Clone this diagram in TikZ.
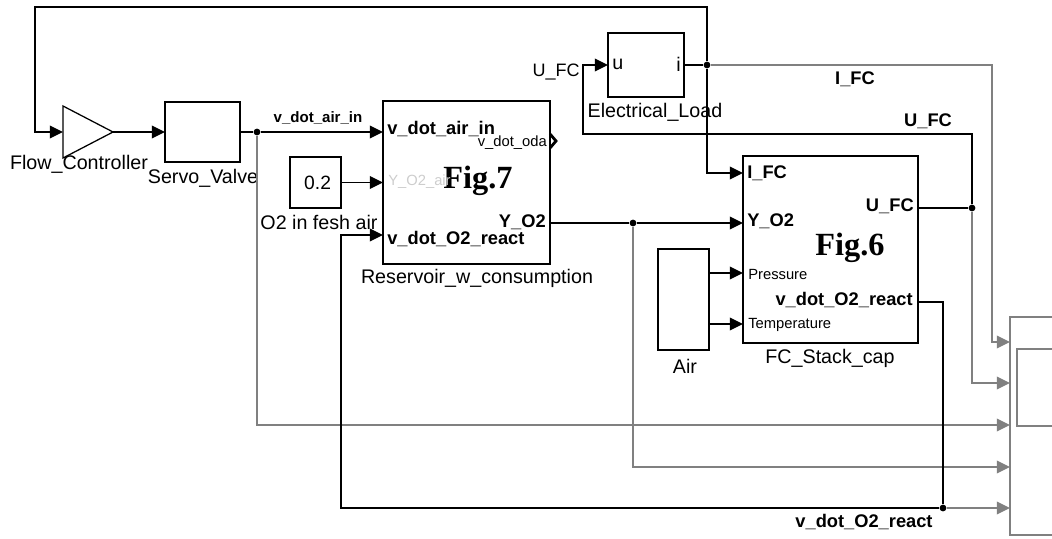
\documentclass[tikz,border=0pt]{standalone}
\usepackage{fontspec}
\setmainfont{Liberation Sans}
\newfontfamily\figfont{Liberation Serif}
\usetikzlibrary{arrows.meta,shapes.geometric}
\definecolor{sgray}{RGB}{128,128,128}
\definecolor{lgray}{RGB}{205,205,205}
\tikzset{
  blk/.style={draw=black,line width=0.9pt,inner sep=0pt,outer sep=0pt},
  gain/.style={blk,shape=isosceles triangle,isosceles triangle stretches,
    minimum width=1.3cm,minimum height=1.25cm,anchor=lower side},
  wire/.style={line width=1pt,black},
  wireg/.style={line width=1pt,sgray},
  sig/.style={wire,-{Triangle[length=3.3mm,width=3.2mm]}},
  sigg/.style={wireg,-{Triangle[length=3.3mm,width=3.2mm]}},
  dot/.style={circle,fill=black,inner sep=0pt,minimum size=0.17cm},
  lbl/.style={inner sep=0pt,font=\fontsize{14}{14}\selectfont},
  portb/.style={inner sep=0pt,font=\fontsize{13}{13}\selectfont\bfseries},
  ports/.style={inner sep=0pt,font=\fontsize{10.5}{11}\selectfont},
  figlbl/.style={inner sep=0pt,font=\fontsize{23}{23}\selectfont\figfont\bfseries}
}
\begin{document}
\begin{tikzpicture}[x=0.025cm,y=-0.025cm]
\useasboundingbox (0,0) rectangle (1052,539);
\clip (0,0) rectangle (1052,539);
% blocks
\node[gain] (flowctl) at (63,132) {};
\node[blk,minimum width=1.875cm,minimum height=1.5cm] (servo) at (202.5,132) {};
\node[blk,minimum width=1.275cm,minimum height=1.275cm,font=\fontsize{13.7}{14}\selectfont] (o2const) at (315.5,182.5) {\hspace{3pt}0.2};
\node[blk,minimum width=4.175cm,minimum height=4.075cm] (resv) at (466.5,182.5) {};
\node[blk,minimum width=1.9cm,minimum height=1.6cm] (eload) at (646,65) {};
\node[blk,minimum width=4.375cm,minimum height=4.675cm] (fcstack) at (830.5,249.5) {};
\node[blk,minimum width=1.275cm,minimum height=2.525cm] (air) at (683.5,299.5) {};
\node[blk,draw=sgray,minimum width=1.5cm,minimum height=5.45cm] (scope) at (1040,426) {};
\draw[line width=0.9pt,sgray] (1017,349) rectangle (1070,426);
% block names
\node[lbl] (lflow) at (79,164) {Flow\_Controller};
\node[lbl] (lservo) at (203,178) {Servo\_Valve};
\node[lbl] (lo2) at (319,222) {O2 in fesh air};
\node[lbl] (lresv) at (477,278) {Reservoir\_w\_consumption};
\node[lbl] (leload) at (655,112) {Electrical\_Load};
\node[lbl] (lfc) at (830,358) {FC\_Stack\_cap};
\node[lbl] (lair) at (685,366) {Air};
\node[figlbl] (fig7) at (478,181) {Fig.7};
\node[figlbl] (fig6) at (850,248) {Fig.6};
% port names
\node[portb,anchor=west] (prv1) at (387,129) {v\_dot\_air\_in};
\node[ports,anchor=west,text=lgray] (prv2) at (388,182) {Y\_O2\_air};
\node[portb,anchor=west] (prv3) at (387,239) {v\_dot\_O2\_react};
\node[ports,anchor=east] (prvoda) at (547,143) {v\_dot\_oda};
\node[portb,anchor=east] (prvy) at (546,222) {Y\_O2};
\node[lbl,anchor=west] (peu) at (612,64) {u};
\node[lbl,anchor=east] (pei) at (681,64) {i};
\node[portb,anchor=west] (pfi) at (747,173) {I\_FC};
\node[portb,anchor=west] (pfy) at (747,221) {Y\_O2};
\node[ports,anchor=west] (pfp) at (748,274) {Pressure};
\node[ports,anchor=west] (pft) at (748,325) {Temperature};
\node[portb,anchor=east] (pfu) at (914,206) {U\_FC};
\node[portb,anchor=east] (pfv) at (913,300) {v\_dot\_O2\_react};
% port points
\coordinate (rin3) at (383,235);
\coordinate (roda) at (550,141);
\coordinate (fin1) at (743,173);
\coordinate (fout2) at (917,302);
\coordinate (sc1) at (1010,342);
\coordinate (sc2) at (1010,383);
\coordinate (sc3) at (1010,425);
\coordinate (sc4) at (1010,467);
\coordinate (sc5) at (1010,508);
% junctions
\node[dot] (j1) at (257,132) {};
\node[dot] (j2) at (707,65) {};
\node[dot] (j3) at (972,208) {};
\node[dot] (j4) at (633,223) {};
\node[dot] (j5) at (943,508) {};
% signals
\draw[line width=2pt] (roda) ++(0,-7) -- ++(6,7) -- ++(-6,7);
\draw[sig] (flowctl.apex) -- (servo.west);
\draw[wire] (servo.east) -- (j1);
\draw[sig] (j1) -- (j1 -| resv.west);
\draw[sig] (o2const.east) -- (o2const.east -| resv.west);
\draw[wire] (resv.east |- j4) -- (j4);
\draw[sig] (j4) -- (j4 -| fcstack.west);
\draw[wire] (eload.east) -- (j2);
\draw[sig] (j2) |- (35,7) |- (flowctl.lower side);
\draw[sig] (j2) |- (fin1);
\draw[sigg] (j2) -| (992,342) -- (sc1);
\draw[wire] (fcstack.east |- j3) -- (j3);
\draw[sig] (j3) |- (583,134) |- (eload.west);
\draw[sigg] (j3) |- (sc2);
\draw[sigg] (j1) |- (sc3);
\draw[sigg] (j4) |- (sc4);
\draw[wire] (fout2) -| (j5);
\draw[sig] (j5) -| ([xshift=-1.05cm]rin3) -- (rin3);
\draw[sigg] (j5) -- (sc5);
\draw[sig] (air.east |- 0,273) -- (fcstack.west |- 0,273);
\draw[sig] (air.east |- 0,324) -- (fcstack.west |- 0,324);
% signal names
\node[portb,font=\fontsize{10.7}{11}\selectfont\bfseries] (nair) at (318,118) {v\_dot\_air\_in};
\node[lbl,font=\fontsize{12.8}{13}\selectfont] (nufc1) at (556,72) {U\_FC};
\node[portb] (nifc) at (855,79) {I\_FC};
\node[portb] (nufc2) at (928,121) {U\_FC};
\node[portb] (nvo2) at (864,522) {v\_dot\_O2\_react};
\end{tikzpicture}
\end{document}
